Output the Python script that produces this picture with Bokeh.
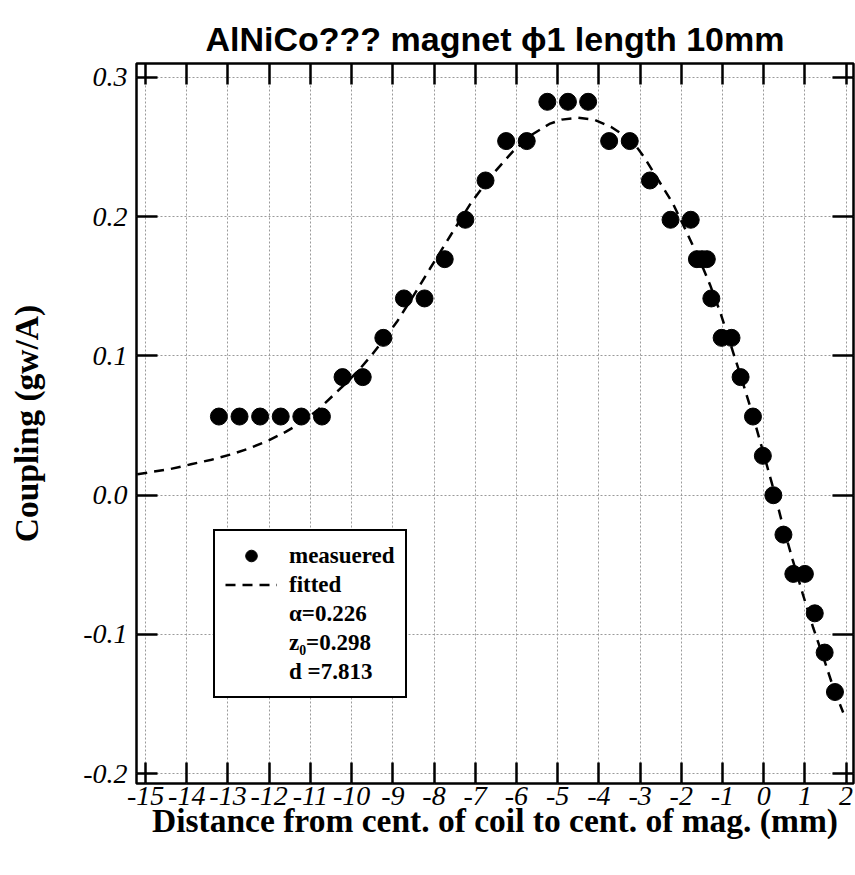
from bokeh.plotting import figure
from bokeh.models import FixedTicker, LinearAxis, Legend, LegendItem, Range1d, ColumnDataSource
from bokeh.embed import file_html
from bokeh.resources import INLINE

# ---- data ----
x_meas = [-13.22, -12.72, -12.22, -11.72, -11.22, -10.72, -10.22, -9.73, -9.23,
          -8.73, -8.23, -7.74, -7.24, -6.75, -6.25, -5.75, -5.25, -4.75, -4.26,
          -3.75, -3.25, -2.76, -2.26, -1.77, -1.62, -1.50, -1.38, -1.27, -1.02,
          -0.78, -0.56, -0.26, -0.02, 0.235, 0.48, 0.72, 1.00, 1.24, 1.48, 1.73]
y_meas = [0.0565, 0.0565, 0.0565, 0.0565, 0.0565, 0.0565, 0.0848, 0.0848, 0.1130,
          0.1413, 0.1413, 0.1695, 0.1978, 0.2260, 0.2543, 0.2543, 0.2825, 0.2825, 0.2825,
          0.2543, 0.2543, 0.2260, 0.1978, 0.1978, 0.1695, 0.1695, 0.1695, 0.1413, 0.1130,
          0.1130, 0.0848, 0.0565, 0.0283, 0.0, -0.0283, -0.0565, -0.0565, -0.0848, -0.1130, -0.1413]

x_fit = [-15.2, -14.9, -14.4, -13.9, -13.4, -12.9, -12.5, -12.0, -11.6, -11.2, -10.8,
         -10.45, -10.1, -9.8, -9.5, -8.9, -8.4, -8.1, -7.6, -7.1, -6.6, -6.1, -5.65,
         -5.2, -4.9, -4.5, -4.1, -3.7, -3.2, -2.9, -2.6, -2.2, -1.85, -1.55, -1.3,
         -1.05, -0.8, -0.55, -0.3, -0.05, 0.2, 0.45, 0.7, 0.95, 1.2, 1.45, 1.7, 1.93]
y_fit = [0.0150, 0.0165, 0.0188, 0.0222, 0.0255, 0.0295, 0.0335, 0.0395, 0.0455, 0.0525, 0.0618,
         0.0716, 0.0815, 0.0907, 0.1010, 0.1245, 0.1480, 0.1626, 0.1865, 0.2100, 0.2297, 0.2464, 0.2584,
         0.2666, 0.2697, 0.2710, 0.2695, 0.2644, 0.2548, 0.2428, 0.2284, 0.2093, 0.1877, 0.1686, 0.1510,
         0.1310, 0.1080, 0.0850, 0.0610, 0.0350, 0.0085, -0.0200, -0.0460, -0.0710, -0.0950, -0.1165, -0.1390, -0.1560]

x_ticks = [-15, -14, -13, -12, -11, -10, -9, -8, -7, -6, -5, -4, -3, -2, -1, 0, 1, 2]
x_tick_labels = ["-15", "-14", "-13", "-12", "-11", "-10", "-9", "-8", "-7", "-6",
                 "-5", "-4", "-3", "-2", "-1", "0", "1", "2"]
y_ticks = [-0.2, -0.1, 0.0, 0.1, 0.2, 0.3]
y_tick_labels = ["-0.2", "-0.1", "0.0", "0.1", "0.2", "0.3"]

legend_labels = ["measuered", "fitted", "\u03b1=0.226", "z\u2080=0.298", "d =7.813"]
title_text = "AlNiCo??? magnet \u03d51 length 10mm"
x_label = "Distance from cent. of coil to cent. of mag. (mm)"
y_label = "Coupling (gw/A)"

# ---- figure ----
p = figure(width=855, height=875, x_range=Range1d(-15.22, 2.18), y_range=Range1d(-0.207, 0.31),
           output_backend="svg", toolbar_location=None,
           min_border_left=136, min_border_right=2, min_border_top=63, min_border_bottom=92,
           title=title_text)
p.title.text_font = "Liberation Sans"
p.title.text_font_size = "34px"
p.title.text_font_style = "bold"
p.title.text_color = "black"
p.title.align = "center"
p.title.vertical_align = "top"
p.title.standoff = 8
p.outline_line_color = "black"
p.outline_line_width = 2.5
p.outline_line_alpha = 1
p.background_fill_color = "white"
p.border_fill_color = "white"

serif = "Liberation Serif"

def style_axis(ax, ticks, labels, show_labels, tick_size="26px"):
    ax.ticker = FixedTicker(ticks=ticks)
    ax.major_label_overrides = dict(zip(ticks, labels))
    ax.major_tick_in = 21
    ax.major_tick_out = 0
    ax.major_tick_line_width = 2.5
    ax.major_tick_line_color = "black"
    ax.minor_tick_line_color = None
    ax.axis_line_color = None
    if show_labels:
        ax.major_label_text_font = serif
        ax.major_label_text_font_style = "italic"
        ax.major_label_text_font_size = tick_size
        ax.major_label_text_color = "black"
        ax.axis_label_text_font = serif
        ax.axis_label_text_font_style = "bold"
        ax.axis_label_text_font_size = "33.5px"
        ax.axis_label_text_color = "black"
    else:
        ax.major_label_text_font_size = "0px"
        ax.major_label_standoff = 0
        ax.axis_label_standoff = 0

xa = p.xaxis[0]
style_axis(xa, x_ticks, x_tick_labels, True, "28px")
xa.axis_label = x_label
xa.major_label_standoff = 3
xa.axis_label_standoff = -6

ya = p.yaxis[0]
style_axis(ya, y_ticks, y_tick_labels, True, "28px")
ya.axis_label = y_label
ya.major_label_standoff = 9
ya.axis_label_standoff = 35

ra = LinearAxis()
style_axis(ra, y_ticks, ["" for _ in y_ticks], False)
p.add_layout(ra, "right")
ta = LinearAxis()
style_axis(ta, x_ticks, ["" for _ in x_ticks], False)
p.add_layout(ta, "above")

for g in (p.xgrid[0], p.ygrid[0]):
    g.grid_line_color = "#9a9a9a"
    g.grid_line_dash = "2 2"
    g.grid_line_width = 1
p.xgrid[0].ticker = FixedTicker(ticks=x_ticks)
p.ygrid[0].ticker = FixedTicker(ticks=y_ticks)

r_fit = p.line(x_fit, y_fit, line_color="black", line_width=2.5, line_dash="10 7")
r_pts = p.scatter(x_meas, y_meas, size=17, fill_color="black", line_color="black")
blank = ColumnDataSource(data=dict(x=[], y=[]))
r_blank = p.line("x", "y", source=blank, line_alpha=0)

legend = Legend(items=[
    LegendItem(label=legend_labels[0], renderers=[r_pts]),
    LegendItem(label=legend_labels[1], renderers=[r_fit]),
    LegendItem(label=legend_labels[2], renderers=[r_blank]),
    LegendItem(label=legend_labels[3], renderers=[r_blank]),
    LegendItem(label=legend_labels[4], renderers=[r_blank]),
], location=(77, 85))
legend.label_text_font = serif
legend.label_text_font_style = "bold"
legend.label_text_font_size = "23px"
legend.label_text_color = "black"
legend.glyph_width = 52
legend.glyph_height = 29
legend.label_height = 29
legend.spacing = 0
legend.padding = 10
legend.margin = 0
legend.label_standoff = 12
legend.border_line_color = "black"
legend.border_line_width = 2
legend.border_line_alpha = 1
legend.background_fill_color = "white"
legend.background_fill_alpha = 1
p.add_layout(legend, "center")

open("out.html", "w").write(file_html(p, INLINE))
